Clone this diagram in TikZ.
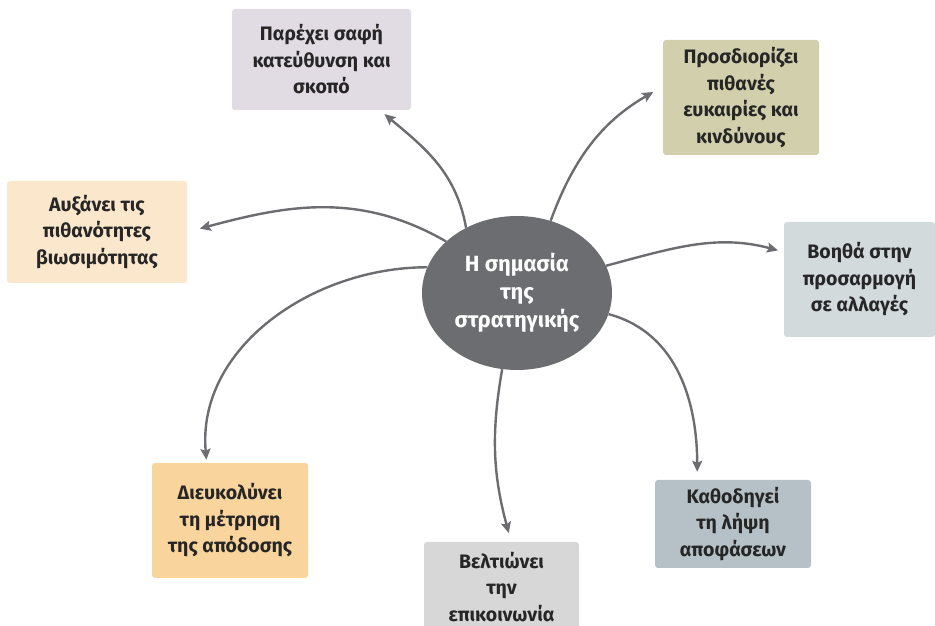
\documentclass[tikz,border=0pt]{standalone}
\usepackage{fontspec}
\setmainfont{Fira Sans}
\usetikzlibrary{arrows.meta,shapes.geometric}
\definecolor{coregray}{HTML}{6C6D70}
\definecolor{lavbox}{HTML}{E1DCE3}
\definecolor{khakibox}{HTML}{D2D0AC}
\definecolor{creambox}{HTML}{FBE7CB}
\definecolor{mistbox}{HTML}{D2DADC}
\definecolor{slatebox}{HTML}{B5C1C6}
\definecolor{greybox}{HTML}{D7D7D8}
\definecolor{peachbox}{HTML}{F9D59D}
\tikzset{every picture/.style={/utils/exec={\bfseries}}}

\begin{document}
\begin{tikzpicture}[x=1pt, y=1pt,
  box/.style={rounded corners=3pt, align=center, inner sep=0pt,
    text=black!85, font=\fontsize{19.5}{26.5}\selectfont\bfseries},
  arr/.style={draw=coregray, line width=2.4pt,
    -{Stealth[length=11pt,width=10pt,inset=2pt]}}
  ]
  \useasboundingbox (0,0) rectangle (935,626);
  \clip (0,0) rectangle (935,626);

  \node [ellipse, fill=coregray, minimum width=190pt, minimum height=154pt,
    inner sep=0pt, align=center, text=white,
    font=\fontsize{22}{28}\selectfont\bfseries] (core) at (517,333)
    {Η σημασία\\της\\στρατηγικής};

  \node [box, fill=lavbox, minimum width=179pt, minimum height=101pt] (b1) at (321.5,566.5)
    {Παρέχει σαφή\\κατεύθυνση και\\σκοπό};
  \node [box, fill=khakibox, minimum width=156pt, minimum height=115pt] (b2) at (741,528.5)
    {Προσδιορίζει\\πιθανές\\ευκαιρίες και\\κινδύνους};
  \node [box, fill=creambox, minimum width=180pt, minimum height=102pt] (b3) at (97,394)
    {Αυξάνει τις\\πιθανότητες\\βιωσιμότητας};
  \node [box, fill=mistbox, minimum width=151pt, minimum height=115pt] (b4) at (859.5,346.5)
    {Βοηθά στην\\προσαρμογή\\σε αλλαγές};
  \node [box, fill=slatebox, minimum width=156pt, minimum height=88pt] (b5) at (733,102)
    {Καθοδηγεί\\τη λήψη\\αποφάσεων};
  \node [box, fill=greybox, minimum width=155pt, minimum height=90pt] (b6) at (501.5,39)
    {Βελτιώνει\\την\\επικοινωνία};
  \node [box, fill=peachbox, minimum width=156pt, minimum height=115pt] (b7) at (230,105.5)
    {Διευκολύνει\\τη μέτρηση\\της απόδοσης};

  % arrows out of the centre
  \foreach \a/\t/\o/\i/\g in {128/b1.-41/100/-40/6, 65/b2.172/70/210/11,
      144/b3.east/150/15/13, 17/b4.160/15/165/6, -13/b5.129/-15/90/8,
      259/b6.78/-100/105/9, 164/b7.112/180/95/3}
    \draw [arr, shorten >=\g pt] (core.\a) to[out=\o, in=\i] (\t);
\end{tikzpicture}
\end{document}
